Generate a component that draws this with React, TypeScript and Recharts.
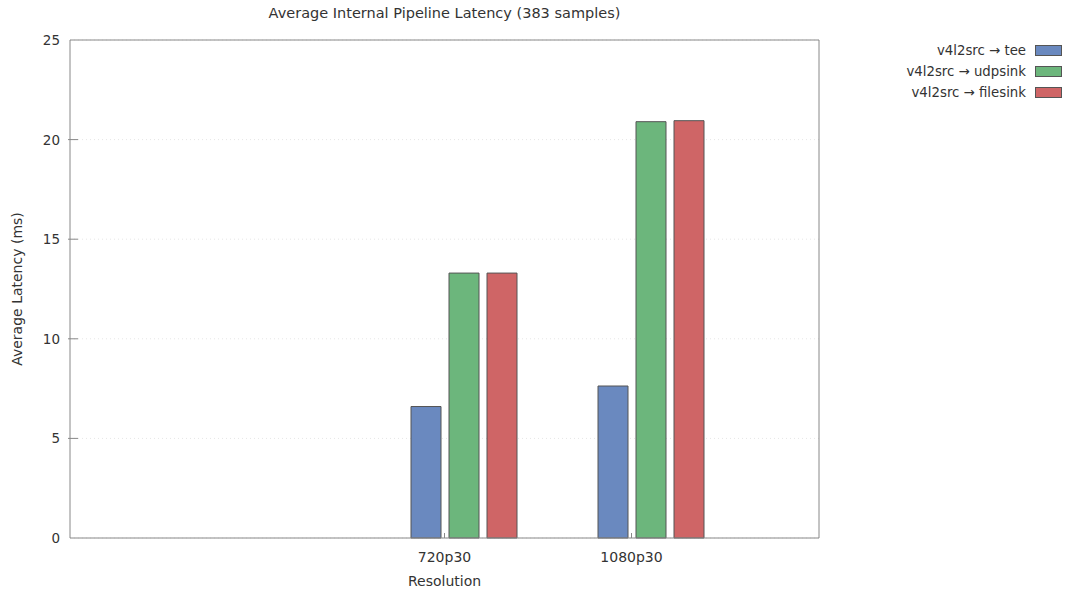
import { BarChart, Bar, XAxis, YAxis, CartesianGrid } from "recharts";

const resolutions = ["720p30", "1080p30"];
const teeLatency = [6.6, 7.63];
const udpsinkLatency = [13.3, 20.9];
const filesinkLatency = [13.3, 20.95];
const yTicks = [0, 5, 10, 15, 20, 25];

const SERIES = [
  { key: "tee", name: "v4l2src → tee", color: "#6a89bf" },
  { key: "udpsink", name: "v4l2src → udpsink", color: "#6cb67c" },
  { key: "filesink", name: "v4l2src → filesink", color: "#cf6566" },
];

const FONT = "'DejaVu Sans', sans-serif";
const TEXT = "#333";
const BORDER = "#888";
const BAR_SIZE = 30;
const BAR_GAP = 8;
const TICK_SIZE = 4;
const TICK_MARGIN = 6;

const data = resolutions.map((r, i) => ({
  res: r,
  tee: teeLatency[i],
  udpsink: udpsinkLatency[i],
  filesink: filesinkLatency[i],
}));

// gnuplot puts the category tick under the gap between the 1st and 2nd bar
function XTick(props: any) {
  const { x, y, payload } = props;
  const tx = x - (BAR_SIZE + BAR_GAP) / 2;
  const axisY = y - TICK_SIZE - TICK_MARGIN;
  return (
    <g>
      <line x1={tx} x2={tx} y1={axisY} y2={axisY - 5} stroke={BORDER} />
      <text x={tx} y={y} dy={14} textAnchor="middle" fill={TEXT} fontSize={14} fontFamily={FONT}>
        {payload.value}
      </text>
    </g>
  );
}

function YTickLeft(props: any) {
  const { x, y, payload } = props;
  const axisX = x + TICK_SIZE + TICK_MARGIN;
  return (
    <g>
      {payload.value !== 0 && payload.value !== 25 && (
        <line x1={axisX - 2} x2={axisX + 8} y1={y} y2={y} stroke={BORDER} />
      )}
      <text x={x} y={y} dy={5} textAnchor="end" fill={TEXT} fontSize={13.5} fontFamily={FONT}>
        {payload.value}
      </text>
    </g>
  );
}

function YTickRight(props: any) {
  const { x, y, payload } = props;
  const axisX = x - TICK_SIZE - TICK_MARGIN;
  if (payload.value === 0 || payload.value === 25) return <g />;
  return <line x1={axisX} x2={axisX - 8} y1={y} y2={y} stroke={BORDER} />;
}

function LegendBox() {
  return (
    <div style={{ position: "absolute", right: 5, top: 40, fontFamily: FONT, fontSize: 13.3, color: TEXT }}>
      {SERIES.map((s) => (
        <div key={s.key} style={{ display: "flex", alignItems: "center", justifyContent: "flex-end", height: 21 }}>
          <span>{s.name}</span>
          <span style={{ display: "inline-block", width: 27, height: 11, marginLeft: 9, background: s.color, border: "1px solid #555", boxSizing: "border-box" }} />
        </div>
      ))}
    </div>
  );
}

export default function App() {
  return (
    <div style={{ position: "absolute", left: 0, top: 0, width: 1067, height: 592, background: "#fff" }}>
      <div style={{ position: "absolute", left: 70, width: 749, top: 5, textAlign: "center", fontFamily: FONT, fontSize: 14.5, color: TEXT }}>
        Average Internal Pipeline Latency (383 samples)
      </div>
      <LegendBox />
      <BarChart width={1067} height={592} data={data} margin={{ top: 39, right: 247, bottom: 24, left: 0 }}
        barSize={BAR_SIZE} barGap={BAR_GAP}>
        <CartesianGrid yAxisId="l" vertical={false} stroke="#e6e6e6" strokeDasharray="1 3" />
        <XAxis dataKey="res" height={30} padding={{ left: 300, right: 75 }} axisLine={{ stroke: BORDER }} tickLine={false}
          tickSize={TICK_SIZE} tickMargin={TICK_MARGIN} tick={<XTick />} interval={0}
          label={{ value: "Resolution", position: "insideBottom", offset: -18, fill: TEXT, fontSize: 14, fontFamily: FONT }} />
        <XAxis xAxisId="top" orientation="top" dataKey="res" height={1} padding={{ left: 300, right: 75 }}
          axisLine={{ stroke: BORDER }} tickLine={false} tick={false} />
        <YAxis yAxisId="l" width={70} domain={[0, 25]} ticks={yTicks} axisLine={{ stroke: BORDER }} tickLine={false}
          tickSize={TICK_SIZE} tickMargin={TICK_MARGIN} tick={<YTickLeft />} interval={0}
          label={{ value: "Average Latency (ms)", angle: -90, position: "insideLeft", offset: 17, fill: TEXT, fontSize: 14, fontFamily: FONT, style: { textAnchor: "middle" } }} />
        <YAxis yAxisId="r" orientation="right" width={1} domain={[0, 25]} ticks={yTicks} axisLine={{ stroke: BORDER }} tickLine={false}
          tickSize={TICK_SIZE} tickMargin={TICK_MARGIN} tick={<YTickRight />} interval={0} />
        {SERIES.map((s) => (
          <Bar key={s.key} yAxisId="l" dataKey={s.key} name={s.name} fill={s.color} stroke="#555" strokeWidth={1} isAnimationActive={false} />
        ))}
      </BarChart>
    </div>
  );
}
